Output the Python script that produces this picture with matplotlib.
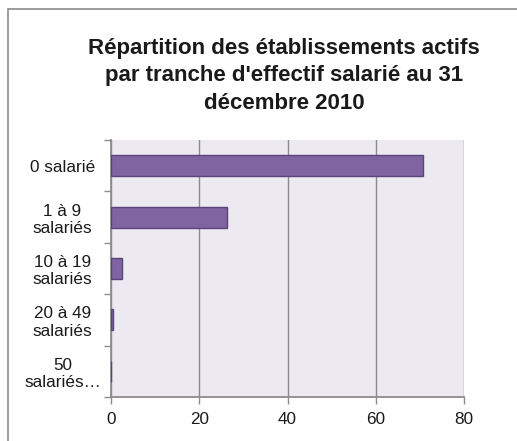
import matplotlib.pyplot as plt
import matplotlib.patches as patches
import numpy as np

plt.rcParams['font.family'] = ['Liberation Sans', 'DejaVu Sans']

CATEGORIES = ["0 salarié", "1 à 9\nsalariés", "10 à 19\nsalariés", "20 à 49\nsalariés", "50\nsalariés…"]
VALUES = [70.8, 26.4, 2.4, 0.5, 0.1]
XTICKS = [0, 20, 40, 60, 80]
TITLE = "Répartition des établissements actifs\npar tranche d'effectif salarié au 31\ndécembre 2010"

fig = plt.figure(figsize=(5.17, 4.41), dpi=100)

# outer frame (only left and top visible in the original)
frame = patches.Rectangle((8 / 517, -0.1), 1.2, 1 - 9 / 441 + 0.1, transform=fig.transFigure,
                          fill=False, edgecolor='#8c8c8c', linewidth=1.2)
fig.patches.append(frame)

ax = fig.add_axes([111 / 517, 1 - 397 / 441, (464 - 111) / 517, (397 - 140) / 441])
ax.set_facecolor('#ECE9F0')

y = np.arange(len(CATEGORIES))
ax.barh(y, VALUES, height=0.41, color='#8064A2', edgecolor='#5A457A', linewidth=1, zorder=3)

ax.set_ylim(len(CATEGORIES) - 0.5, -0.5)
ax.set_xlim(0, 80)
ax.set_xticks(XTICKS)
ax.set_yticks(y)
ax.set_yticklabels(CATEGORIES, ha='center', fontsize=12.3, color='#1a1a1a', linespacing=1.2)
ax.set_yticks(np.arange(-0.5, len(CATEGORIES)), minor=True)
ax.tick_params(axis='y', which='major', length=0, pad=35)
ax.tick_params(axis='y', which='minor', length=5, color='#8c8c8c', width=1)
ax.tick_params(axis='x', length=5, color='#8c8c8c', width=1, labelsize=12.3, labelcolor='#1a1a1a', pad=6)

ax.xaxis.grid(True, color='#8c8c8c', linewidth=1, zorder=0)
ax.set_axisbelow(True)
for s in ('top', 'right'):
    ax.spines[s].set_visible(False)
for s in ('left', 'bottom'):
    ax.spines[s].set_color('#8c8c8c')
    ax.spines[s].set_linewidth(1.3)

fig.text(284 / 517, 1 - 76 / 441, TITLE, ha='center', va='center', fontsize=16,
         fontweight='bold', color='#1a1a1a', linespacing=1.42)

fig.savefig('out.png', dpi=100)
